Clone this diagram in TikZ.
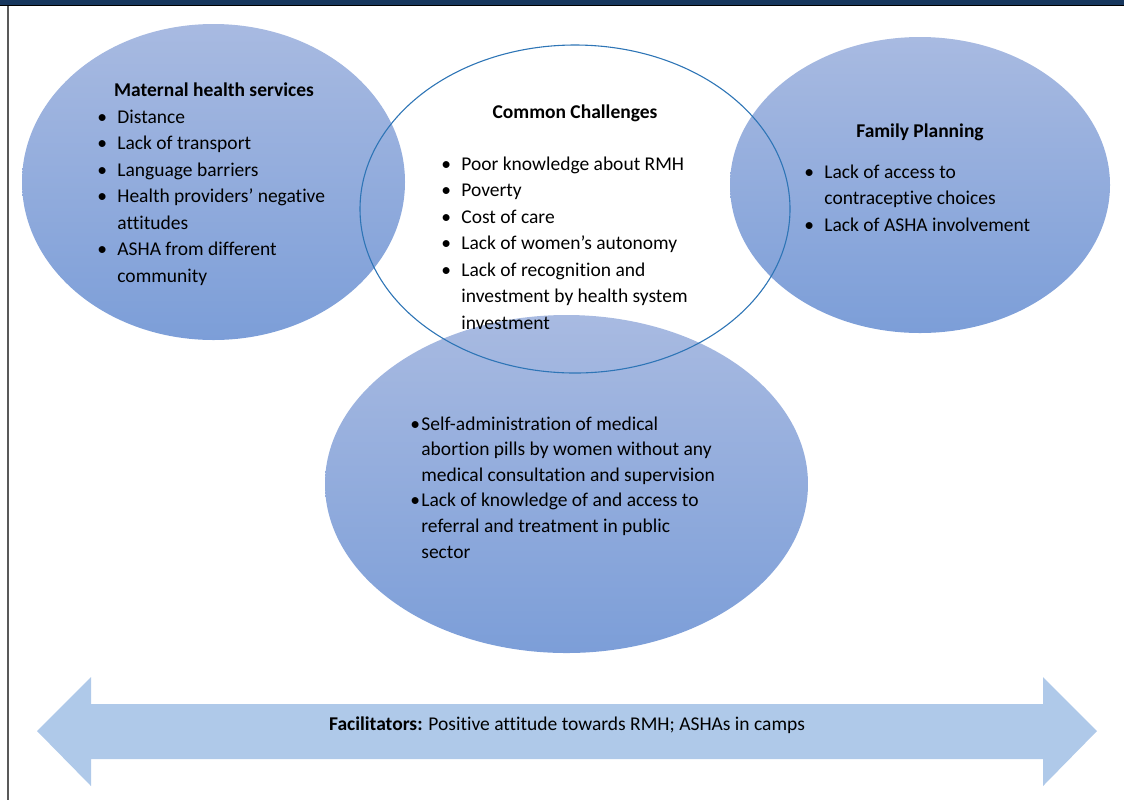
\documentclass[tikz,border=0pt]{standalone}
\usepackage{fontspec}
\setmainfont{Carlito}[Ligatures=NoCommon]
\usetikzlibrary{shapes.geometric}
\usepackage{xcolor}
\definecolor{ovaltop}{RGB}{168,186,225}
\definecolor{ovalbot}{RGB}{124,158,216}
\definecolor{arrowfill}{RGB}{175,201,233}
\definecolor{rimblue}{RGB}{46,117,182}
\definecolor{barnavy}{RGB}{23,55,94}
\newcommand{\itm}{\makebox[10pt][l]{\textbullet}}
\newcommand{\itmb}{\makebox[5.5pt][l]{\textbullet}}
\newcommand{\cont}{\hspace*{10pt}}
\newcommand{\contb}{\hspace*{5.5pt}}

\begin{document}
\begin{tikzpicture}[x=0.5pt, y=-0.5pt]
    \tikzstyle{oval}=[ellipse, inner sep=0pt, draw=none, top color=ovaltop, bottom color=ovalbot]
    \tikzstyle{rim}=[ellipse, inner sep=0pt, draw=rimblue, line width=0.55pt]
    \tikzstyle{head}=[inner sep=0pt, anchor=base, font={\fontsize{9.75pt}{13.25pt}\selectfont\bfseries}]
    % lists are placed by the baseline of their last line
    \tikzstyle{list}=[inner sep=0pt, anchor=base west, align=left, font={\fontsize{9.75pt}{13.25pt}\selectfont}]

    \useasboundingbox (0,0) rectangle (1124,800);

    % Page frame: dark bar on top, rule down the left side
    \fill[barnavy] (0,0) rectangle (1124,5);
    \draw[black, line width=0.6pt] (0,5.5) -- (1124,5.5);
    \draw[black!65, line width=0.8pt] (8,6) -- (8,800);

    % Draw the filled ovals
    \node[oval, minimum width=191.5pt, minimum height=158pt] (mat) at (213.5,182) {};
    \node[oval, minimum width=190pt, minimum height=148pt] (fam) at (920,185) {};
    \node[oval, minimum width=241.5pt, minimum height=169pt] (abo) at (566.5,484) {};

    % The common oval is only outlined, on top of the others
    \node[rim, minimum width=215pt, minimum height=164pt] (com) at (575,209) {};

    % Headings
    \node[head] (mat-h) at (214,96) {Maternal health services};
    \node[head] (com-h) at (575,118) {Common Challenges};
    \node[head] (fam-h) at (920,137) {Family Planning};

    % Bullet lists
    \node[list] (mat-l) at (97,282) {\itm Distance\\ \itm Lack of transport\\ \itm Language barriers\\
        \itm Health providers’ negative\\ \cont attitudes\\ \itm ASHA from different\\ \cont community};
    \node[list] (com-l) at (441,329) {\itm Poor knowledge about RMH\\ \itm Poverty\\ \itm Cost of care\\
        \itm Lack of women’s autonomy\\ \itm Lack of recognition and\\ \cont investment by health system\\ \cont investment};
    \node[list] (fam-l) at (804,231) {\itm Lack of access to\\ \cont contraceptive choices\\ \itm Lack of ASHA involvement};
    \node[list, font={\fontsize{9.75pt}{12.8pt}\selectfont}] (abo-l) at (410,558) {\itmb Self-administration of medical\\
        \contb abortion pills by women without any\\ \contb medical consultation and supervision\\
        \itmb Lack of knowledge of and access to\\ \contb referral and treatment in public\\ \contb sector};

    % Two-headed arrow along the bottom
    \fill[arrowfill] (37,731) -- (91,677) -- (91,704) -- (1043,704) -- (1043,677) -- (1097,731)
        -- (1043,786) -- (1043,759) -- (91,759) -- (91,786) -- cycle;
    \node[inner sep=0pt, font={\fontsize{9.75pt}{13.25pt}\selectfont}] (fac) at (567,725)
        {\textbf{Facilitators:} Positive attitude towards RMH; ASHAs in camps};
\end{tikzpicture}
\end{document}
